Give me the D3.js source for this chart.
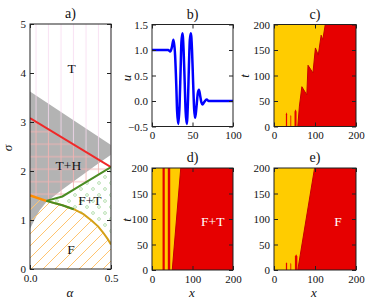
<!DOCTYPE html>
<html>
<head>
<meta charset="utf-8">
<script src="https://cdn.jsdelivr.net/npm/d3@7"></script>
<style>
  body { margin: 0; background: #fff; }
  text { font-family: "Liberation Serif", "DejaVu Serif", serif; }
</style>
</head>
<body>
<script>
// ---------- data ----------
// panel a: phase diagram (alpha, sigma)
var alphaTicks = [0, 0.5];
var sigmaTicks = [0, 1, 2, 3, 4, 5];
var redLine = [[0, 3.08], [0.5, 2.08]];
var orangeLine = [[0, 1.50], [0.1, 1.39]];
var greenUpper = [[0.1, 1.39], [0.2, 1.48], [0.3, 1.68], [0.4, 1.88], [0.5, 2.08]];
var greenLower = [[0.1, 1.39], [0.2, 1.30], [0.27, 1.22]];
var goldCurve = [[0.1, 1.39], [0.2, 1.30], [0.27, 1.22], [0.33, 1.12], [0.38, 0.99],
                 [0.42, 0.87], [0.45, 0.75], [0.48, 0.61], [0.5, 0.50]];
var grayTop = [[0, 3.62], [0.5, 2.53]];
var grayBottom = [[0.5, 2.33], [0.4, 2.10], [0.3, 1.86], [0.2, 1.62], [0.1, 1.36],
                  [0.06, 1.20], [0.04, 1.08], [0.02, 0.95], [0, 0.82]];
var regionNames = ["T", "T+H", "F+T", "F"];
var regionAlpha = [0.257, 0.237, 0.37, 0.253];
var regionSigma = [4.1, 2.12, 1.41, 0.40];

// panel b: profile u(x)
var uTicksX = [0, 50, 100];
var uTicksY = [-0.5, 0, 0.5, 1, 1.5];
var profX = [0, 20, 22.5, 24.5, 26.5, 28.5, 30, 31, 32.5, 34, 35.3, 36.3, 37.6, 39, 40.3, 41.5,
             43, 44.4, 45.6, 46.7, 48, 49.4, 50.7, 52, 53.3, 55, 56.5, 58, 59.5, 61, 62.3,
             64.5, 67.5, 70, 73, 100];
var profU = [1, 1, 0.97, 1.05, 1.2, 0.9, 0.3, -0.2, -0.45, -0.1, 0.6, 1.15, 1.33, 1.0, 0.4, -0.2,
             -0.45, 0.0, 0.7, 1.2, 1.33, 1.0, 0.4, -0.15, -0.33, -0.1, 0.15, 0.22, 0.1, -0.03, -0.07,
             -0.02, 0.03, 0.0, 0, 0];

// panels c, d, e: space-time maps (x, t)
var mapTicks = [0, 100, 200];
var tTicks = [0, 50, 100, 150, 200];
var cFront = [[58, 0], [62, 40], [68, 78], [80, 62], [83, 120], [95, 105], [101, 154],
              [108, 140], [115, 179], [119, 170], [125, 200]];
var cSpikes = [[29, 32, 28], [40, 42, 23], [50, 55, 34]];
var dStripes = [[26, 31.5], [39, 45]];
var dFront = [[50, 0], [71, 200]];
var eFront = [[58, 0], [99, 200]];
var eSpikes = [[29, 32, 15], [40, 42, 14], [51, 57, 31]];

// ---------- layout ----------
var yellow = "#ffcc00";
var red = "#e60000";

var svg = d3.select("body")
  .append("svg")
  .attr("width", 374)
  .attr("height", 301);

var defs = svg.append("defs");

// hatch patterns
var pV = defs.append("pattern").attr("id", "hV").attr("patternUnits", "userSpaceOnUse")
  .attr("width", 12.5).attr("height", 12.5);
pV.append("line").attr("x1", 11).attr("x2", 11).attr("y1", 0).attr("y2", 12.5)
  .attr("stroke", "#f7d9ef").attr("stroke-width", 0.8);

var pP = defs.append("pattern").attr("id", "hP").attr("patternUnits", "userSpaceOnUse")
  .attr("width", 12.5).attr("height", 12.5);
pP.append("line").attr("x1", 11).attr("x2", 11).attr("y1", 0).attr("y2", 12.5)
  .attr("stroke", "#f2b3b3").attr("stroke-width", 0.9);
pP.append("line").attr("x1", 0).attr("x2", 12.5).attr("y1", 6.7).attr("y2", 6.7)
  .attr("stroke", "#f2b3b3").attr("stroke-width", 0.9);

var pO = defs.append("pattern").attr("id", "hO").attr("patternUnits", "userSpaceOnUse")
  .attr("width", 12).attr("height", 12);
pO.append("circle").attr("cx", 3).attr("cy", 3).attr("r", 1.4)
  .attr("fill", "none").attr("stroke", "#a6d8a0").attr("stroke-width", 0.8);
pO.append("circle").attr("cx", 9).attr("cy", 9).attr("r", 1.4)
  .attr("fill", "none").attr("stroke", "#a6d8a0").attr("stroke-width", 0.8);

var pS = defs.append("pattern").attr("id", "hS").attr("patternUnits", "userSpaceOnUse")
  .attr("width", 12).attr("height", 12);
pS.append("path").attr("d", "M0,12 L12,0 M-3,3 L3,-3 M9,15 L15,9")
  .attr("fill", "none")
  .attr("stroke", "#ffc470").attr("stroke-width", 1);

// set up a panel: scales and clip area
function makePanel(name, box, xDom, yDom) {
  var g = svg.append("g");
  var x = d3.scaleLinear().domain(xDom).range([box.x0, box.x1]);
  var y = d3.scaleLinear().domain(yDom).range([box.y1, box.y0]);
  defs.append("clipPath").attr("id", "clip-" + name)
    .append("rect")
    .attr("x", box.x0).attr("y", box.y0)
    .attr("width", box.x1 - box.x0).attr("height", box.y1 - box.y0);
  var inner = g.append("g").attr("clip-path", "url(#clip-" + name + ")");
  var line = d3.line().x(d => x(d[0])).y(d => y(d[1]));
  return { g: g, inner: inner, x: x, y: y, box: box, line: line };
}

// frame, inward ticks on all four sides, title
function drawFrame(p, xTicks, yTicks, xFmt, yFmt, title) {
  var b = p.box;
  var axes = [
    [d3.axisBottom(p.x).tickValues(xTicks).tickFormat(xFmt), b.y1, 0],
    [d3.axisTop(p.x).tickValues(xTicks).tickFormat(""), b.y0, 0],
    [d3.axisLeft(p.y).tickValues(yTicks).tickFormat(yFmt), b.x0, 1],
    [d3.axisRight(p.y).tickValues(yTicks).tickFormat(""), b.x1, 1]
  ];
  axes.forEach(function (a) {
    var ag = p.g.append("g")
      .attr("transform", a[2] ? "translate(" + a[1] + ",0)" : "translate(0," + a[1] + ")")
      .call(a[0].tickSize(-4).tickPadding(a[2] ? 4 : 5));
    ag.select(".domain").remove();
    ag.attr("font-family", "Liberation Serif").attr("font-size", 11);
    ag.selectAll("line").attr("stroke", "#222");
    ag.selectAll("text").attr("fill", "#111");
  });
  p.g.append("rect")
    .attr("x", b.x0).attr("y", b.y0)
    .attr("width", b.x1 - b.x0).attr("height", b.y1 - b.y0)
    .attr("fill", "none").attr("stroke", "#222").attr("stroke-width", 1);
  p.g.append("text")
    .attr("x", (b.x0 + b.x1) / 2).attr("y", b.y0 - 6)
    .attr("text-anchor", "middle").attr("font-size", 14).attr("fill", "#111")
    .text(title);
}

function axisLabel(x, y, txt, rotate) {
  svg.append("text")
    .attr("transform", "translate(" + x + "," + y + ")" + (rotate ? " rotate(-90)" : ""))
    .attr("text-anchor", "middle").attr("dy", "0.35em")
    .attr("font-size", 13).attr("font-style", "italic").attr("fill", "#111")
    .text(txt);
}

// ---------- panel a ----------
var pa = makePanel("a", { x0: 30, x1: 111, y0: 24, y1: 269 }, [0, 0.5], [0, 5]);

pa.inner.append("path")
  .attr("d", pa.line(grayTop.concat(grayBottom)) + "Z")
  .attr("fill", "#b3b3b3");

var regT = [[0, 5], [0.5, 5]].concat(redLine.slice().reverse());
var regTH = redLine.concat(greenUpper.slice().reverse(), orangeLine.slice().reverse());
var regFT = greenUpper.concat(goldCurve.slice().reverse());
var regF = [[0, 0]].concat(orangeLine, goldCurve.slice(1), [[0.5, 0]]);

[[regT, "hV"], [regTH, "hP"], [regFT, "hO"], [regF, "hS"]].forEach(function (r) {
  pa.inner.append("path")
    .attr("d", pa.line(r[0]) + "Z")
    .attr("fill", "url(#" + r[1] + ")");
});

var aLines = [[redLine, "#f02828", 2], [goldCurve, "#d4a017", 2],
              [greenLower, "#4a8c22", 2], [greenUpper, "#4a8c22", 2], [orangeLine, "#ff8c00", 2.5]];
aLines.forEach(function (l) {
  pa.inner.append("path")
    .attr("d", pa.line(l[0]))
    .attr("fill", "none").attr("stroke", l[1]).attr("stroke-width", l[2]);
});

regionNames.forEach(function (n, i) {
  pa.inner.append("text")
    .attr("x", pa.x(regionAlpha[i])).attr("y", pa.y(regionSigma[i]))
    .attr("dy", "0.35em").attr("text-anchor", "middle")
    .attr("font-size", 13.5).attr("fill", "#111")
    .text(n);
});

drawFrame(pa, alphaTicks, sigmaTicks, d3.format(".1f"), d3.format("d"), "a)");
axisLabel(7, 148, "σ", true);
axisLabel(70, 292, "α", false);

// ---------- panel b ----------
var pb = makePanel("b", { x0: 152, x1: 233, y0: 24.5, y1: 126.5 }, [0, 100], [-0.5, 1.5]);
var profile = profX.map((v, i) => [v, profU[i]]);
pb.inner.append("path")
  .attr("d", d3.line().x(d => pb.x(d[0])).y(d => pb.y(d[1])).curve(d3.curveMonotoneX)(profile))
  .attr("fill", "none").attr("stroke", "#0000ff").attr("stroke-width", 2.5);
drawFrame(pb, uTicksX, uTicksY, d3.format("d"), d3.format(".1f"), "b)");
axisLabel(126, 78, "u", true);

// ---------- maps ----------
function spikePoly(s) {
  return [[s[0], 0], [s[0], s[2] * 0.85], [(s[0] + s[1]) / 2, s[2]], [s[1], s[2] * 0.85], [s[1], 0]];
}

function mapBase(p) {
  p.inner.append("path")
    .attr("d", p.line([[0, 0], [0, 200], [200, 200], [200, 0]]) + "Z")
    .attr("fill", yellow);
}

function redArea(p, pts, edge) {
  p.inner.append("path")
    .attr("d", p.line(pts) + "Z")
    .attr("fill", red)
    .attr("stroke", edge ? "#c40000" : "none").attr("stroke-width", 1);
}

// c
var pc = makePanel("c", { x0: 274, x1: 356, y0: 24.5, y1: 126.5 }, [0, 200], [0, 200]);
mapBase(pc);
redArea(pc, cFront.concat([[200, 200], [200, 0]]), true);
cSpikes.forEach(s => redArea(pc, spikePoly(s), false));
drawFrame(pc, mapTicks, tTicks, d3.format("d"), d3.format("d"), "c)");
axisLabel(244, 76, "t", true);

// d
var pd = makePanel("d", { x0: 152, x1: 233, y0: 168, y1: 270 }, [0, 200], [0, 200]);
mapBase(pd);
dStripes.forEach(s => redArea(pd, [[s[0], 0], [s[0], 200], [s[1], 200], [s[1], 0]], false));
redArea(pd, dFront.concat([[200, 200], [200, 0]]), true);
pd.inner.append("text")
  .attr("x", pd.x(150)).attr("y", pd.y(95)).attr("dy", "0.35em")
  .attr("text-anchor", "middle").attr("font-size", 13.5).attr("fill", "#fff")
  .text("F+T");
drawFrame(pd, mapTicks, tTicks, d3.format("d"), d3.format("d"), "d)");
axisLabel(126, 220, "t", true);
axisLabel(192, 292, "x", false);

// e
var pe = makePanel("e", { x0: 274, x1: 356, y0: 168, y1: 270 }, [0, 200], [0, 200]);
mapBase(pe);
redArea(pe, eFront.concat([[200, 200], [200, 0]]), true);
eSpikes.forEach(s => redArea(pe, spikePoly(s), false));
pe.inner.append("text")
  .attr("x", pe.x(156)).attr("y", pe.y(95)).attr("dy", "0.35em")
  .attr("text-anchor", "middle").attr("font-size", 13.5).attr("fill", "#fff")
  .text("F");
drawFrame(pe, mapTicks, tTicks, d3.format("d"), d3.format("d"), "e)");
axisLabel(314, 292, "x", false);
</script>
</body>
</html>
